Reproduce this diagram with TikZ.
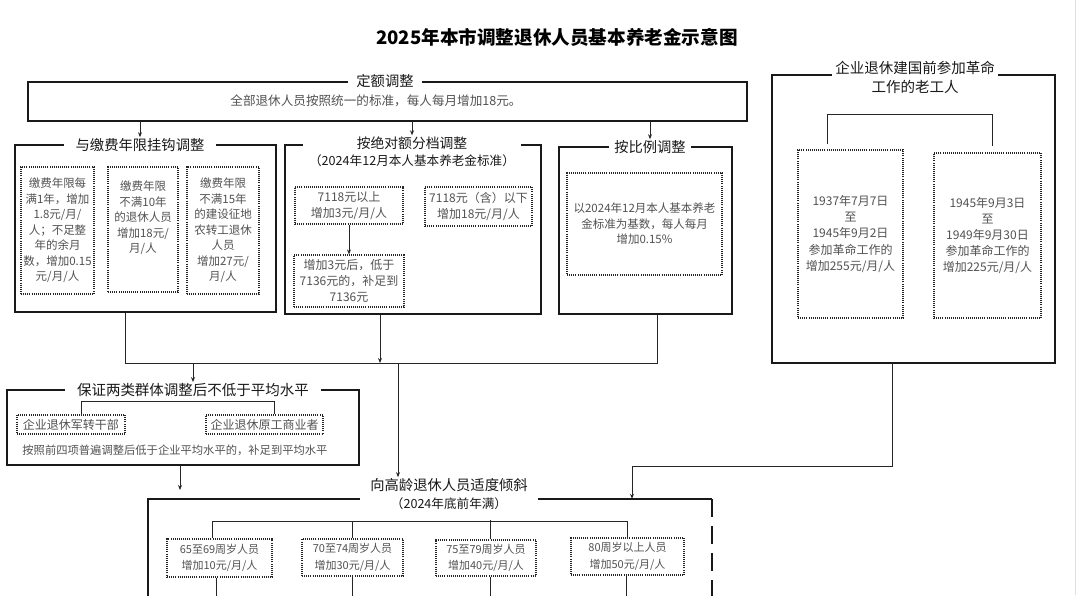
\documentclass[tikz,border=0pt]{standalone}
\usepackage{fontspec}
\newfontfamily\cjk{Noto Sans CJK SC}
\usetikzlibrary{arrows.meta,calc}
\begin{document}
\begin{tikzpicture}[x=1pt,y=-1pt,
  frame/.style={draw=black!90,line width=1.8pt,inner sep=0pt},
  ttl/.style={fill=white,inner xsep=9pt,inner ysep=1pt,align=center,text=black!90,font=\cjk\fontsize{14.3}{17}\selectfont},
  body/.style={align=center,text=black!68,font=\cjk\fontsize{11.5}{15.5}\selectfont},
  dotbox/.style={draw=black!85,line width=1.2pt,dash pattern=on 0.9pt off 1.2pt,inner sep=0pt,body},
  conn/.style={draw=black!85,line width=1pt},
  arr/.style={conn,-{Stealth[length=5pt,width=4pt]}}]
\useasboundingbox (0,0) rectangle (1080,595);
\clip (0,0) rectangle (1080,595);
\fill[white] (0,0) rectangle (1080,595);
\draw[black!12,line width=1pt] (1075,0) -- (1075,595);

\node[font=\cjk\bfseries\fontsize{18.6}{20}\selectfont] (title) at (557,37) {2025年本市调整退休人员基本养老金示意图};

% top box
\node[frame,minimum width=719pt,minimum height=39pt] (top) at (387.5,101.5) {};
\node[body,font=\cjk\fontsize{12.6}{15}\selectfont] (toptx) at (376,101) {全部退休人员按照统一的标准，每人每月增加18元。};
\node[ttl,inner xsep=8pt] (topt) at (385,81) {定额调整};

% left box
\node[frame,minimum width=261pt,minimum height=167pt] (lb) at (145.5,228.5) {};
\node[dotbox,minimum width=73pt,minimum height=127pt] (A) at (57.5,230.5) {缴费年限每\\满1年，增加\\1.8元/月/\\人；不足整\\年的余月\\数，增加0.15\\元/月/人};
\node[dotbox,minimum width=70pt,minimum height=125pt] (B) at (143,229.5) {};
\node[body] (Bt) at (143,218) {缴费年限\\不满10年\\的退休人员\\增加18元/\\月/人};
\node[dotbox,minimum width=72pt,minimum height=127pt] (C) at (223,230.5) {缴费年限\\不满15年\\的建设征地\\农转工退休\\人员\\增加27元/\\月/人};
\node[ttl,inner xsep=12pt] (lbt) at (140,145) {与缴费年限挂钩调整};

% middle box
\node[frame,minimum width=256pt,minimum height=169pt] (mb) at (413,229.5) {};
\node[dotbox,minimum width=108pt,minimum height=37pt,font=\cjk\fontsize{12}{16}\selectfont] (D) at (349,205.5) {7118元以上\\增加3元/月/人};
\node[dotbox,minimum width=107pt,minimum height=39pt,font=\cjk\fontsize{12}{16}\selectfont] (E) at (478.5,206.5) {7118元（含）以下\\增加18元/月/人};
\node[dotbox,minimum width=110pt,minimum height=52pt,font=\cjk\fontsize{12}{16}\selectfont] (F) at (349,281) {增加3元后，低于\\7136元的，补足到\\7136元};
\draw[arr] (D.south) -- (F.north);
\node[ttl,inner xsep=6pt,font=\cjk\fontsize{13.8}{17}\selectfont] (mbt) at (412,151.5) {按绝对额分档调整\\{\fontsize{12.6}{17}\selectfont （2024年12月本人基本养老金标准）}};

% right box
\node[frame,minimum width=173pt,minimum height=167pt] (rb) at (645.5,230.5) {};
\node[dotbox,minimum width=155pt,minimum height=102pt] (P) at (644.5,224) {以2024年12月本人基本养老\\金标准为基数，每人每月\\增加0.15\%};
\node[ttl,inner xsep=5pt] (rbt) at (650,147) {按比例调整};

% far right box
\node[frame,minimum width=283pt,minimum height=288pt] (fb) at (913.5,219) {};
\node[dotbox,minimum width=105pt,minimum height=168pt,font=\cjk\fontsize{12}{16.2}\selectfont] (G) at (850.5,234) {1937年7月7日\\至\\1945年9月2日\\参加革命工作的\\增加255元/月/人};
\node[dotbox,minimum width=107pt,minimum height=165pt,font=\cjk\fontsize{12}{16.2}\selectfont] (H) at (987.5,235.5) {1945年9月3日\\至\\1949年9月30日\\参加革命工作的\\增加225元/月/人};
\node[ttl,inner xsep=3pt,font=\cjk\fontsize{14.5}{19}\selectfont] (fbt) at (915,77.5) {企业退休建国前参加革命\\工作的老工人};
\draw[conn] ($(G.north west)+(30,-5)$) -- ++(0,-30) -| ($(H.north west)+(59,-6)$);

% connectors from top
\draw[arr] (top.south -| lbt) -- (lbt.north);
\draw[arr] (top.south -| mbt) -- (mbt.north);
\draw[arr] (top.south -| rbt) -- (rbt.north);

% merge line
\coordinate (j1) at (125,363);
\coordinate (j2) at (657,363);
\coordinate (j3) at (380,363);
\coordinate (j4) at (398,363);
\draw[conn] (lb.south -| j1) -- (j1) -- (j2) -- (rb.south -| j2);
\draw[arr] (mb.south -| j3) -- (j3);

% guarantee box
\node[frame,minimum width=352pt,minimum height=75pt] (sb) at (183,427.5) {};
\node[dotbox,minimum width=108pt,minimum height=19pt,font=\cjk\fontsize{12}{14}\selectfont] (I) at (71,424.5) {企业退休军转干部};
\node[dotbox,minimum width=117pt,minimum height=19pt,font=\cjk\fontsize{12}{14}\selectfont] (J) at (264.5,424.5) {企业退休原工商业者};
\node[body,font=\cjk\fontsize{11.3}{14}\selectfont] (sbtx) at (175,450) {按照前四项普遍调整后低于企业平均水平的，补足到平均水平};
\node[ttl,inner xsep=12pt,font=\cjk\fontsize{14.5}{17}\selectfont] (sbt) at (193,390) {保证两类群体调整后不低于平均水平};
\draw[conn] ([xshift=65pt]I.north west) -- ++(0,-13) -| ([xshift=69pt]J.north west);
\draw[arr] (j1 -| sbt) -- (sbt.north);

% bottom box
\node[minimum width=564pt,minimum height=140pt,inner sep=0pt] (bb) at (430,569) {};
\draw[frame] (bb.north east) -- (bb.north west) -- (bb.south west);
\draw[frame,dash pattern=on 18pt off 9pt] (bb.north east) -- (bb.south east);
\node[ttl,inner xsep=10pt,font=\cjk\fontsize{14.3}{18}\selectfont] (bbt) at (449,494) {向高龄退休人员适度倾斜\\{\fontsize{12.6}{18}\selectfont （2024年底前年满）}};
\draw[arr] (j4) -- (j4 |- bbt.north);
\coordinate (j5) at (180,490);
\draw[arr] (sb.south -| j5) -- (j5);
\coordinate (j6) at (892,466);
\coordinate (j7) at (632,466);
\draw[arr] (fb.south -| j6) -- (j6) -- (j7) -- (j7 |- bb.north);

% age boxes
\node[dotbox,minimum width=105pt,minimum height=38pt,font=\cjk\fontsize{11}{16.5}\selectfont] (K) at (219.5,558) {65至69周岁人员\\增加10元/月/人};
\node[dotbox,minimum width=101pt,minimum height=37pt,font=\cjk\fontsize{11}{16.5}\selectfont] (L) at (352.5,557.5) {70至74周岁人员\\增加30元/月/人};
\node[dotbox,minimum width=100pt,minimum height=36pt,font=\cjk\fontsize{11}{16.5}\selectfont] (M) at (486,558) {75至79周岁人员\\增加40元/月/人};
\node[dotbox,minimum width=113pt,minimum height=37pt,font=\cjk\fontsize{11}{16.5}\selectfont] (N) at (627.5,556.5) {80周岁以上人员\\增加50元/月/人};
\coordinate (br) at (0,521);
\draw[conn] ([xshift=46pt]K.north west) |- (br -| N.north) -- (N.north);
\draw[conn] (L.north) -- (L.north |- br);
\draw[conn] ([xshift=4pt]M.north) -- ++(0,-19);
\draw[conn] ([xshift=-3.5pt]K.south) -- ++(0,30);
\draw[conn] (L.south) -- ++(0,30);
\draw[conn] ([xshift=4pt]M.south) -- ++(0,30);
\draw[conn] ([xshift=-1.5pt]N.south) -- ++(0,30);
\end{tikzpicture}
\end{document}
